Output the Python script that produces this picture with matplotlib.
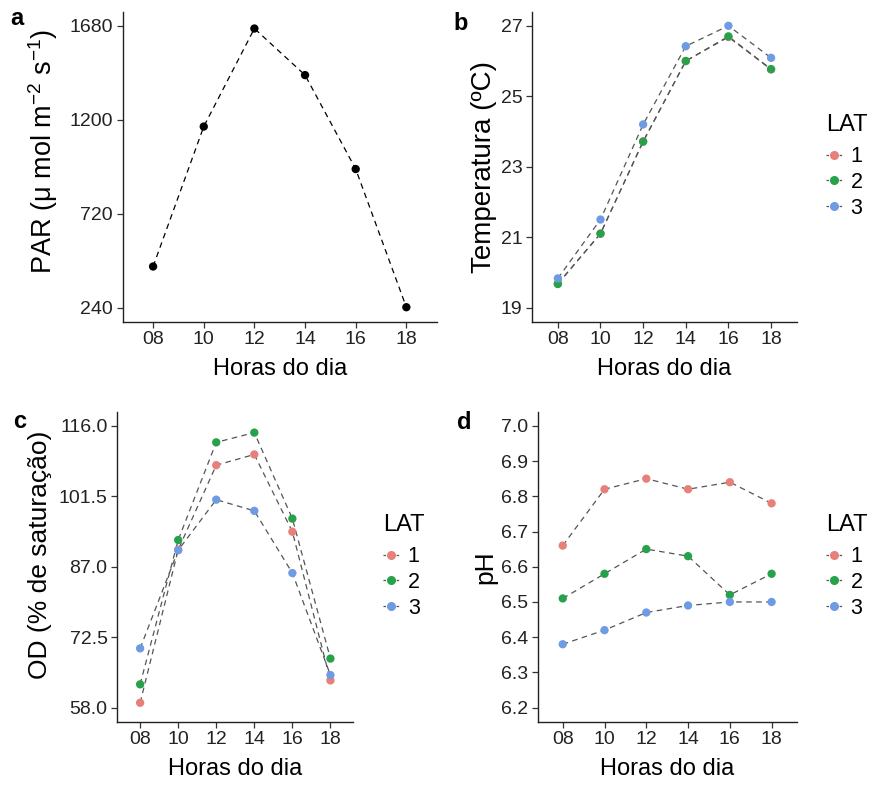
import matplotlib
matplotlib.use("Agg")
import matplotlib.pyplot as plt
from matplotlib.lines import Line2D

plt.rcParams['font.family'] = ['Liberation Sans', 'DejaVu Sans']
plt.rcParams['mathtext.fontset'] = 'custom'
plt.rcParams['mathtext.rm'] = 'Liberation Sans'

# data
hours = ["08", "10", "12", "14", "16", "18"]
lats = ["1", "2", "3"]
lat_colors = ["#E8807A", "#27A24A", "#6F9BE3"]

par = [450, 1165, 1666, 1428, 948, 242]

temp_lat1 = [19.68, 21.10, 23.72, 26.00, 26.68, 25.76]
temp_lat2 = [19.67, 21.10, 23.71, 26.00, 26.70, 25.77]
temp_lat3 = [19.83, 21.50, 24.20, 26.42, 27.00, 26.09]

od_lat1 = [59.0, 90.5, 107.9, 110.1, 94.2, 63.6]
od_lat2 = [62.8, 92.5, 112.6, 114.6, 96.9, 68.1]
od_lat3 = [70.2, 90.4, 100.8, 98.5, 85.7, 64.7]

ph_lat1 = [6.66, 6.82, 6.85, 6.82, 6.84, 6.78]
ph_lat2 = [6.51, 6.58, 6.65, 6.63, 6.52, 6.58]
ph_lat3 = [6.38, 6.42, 6.47, 6.49, 6.50, 6.50]

x = list(range(len(hours)))
dash = (0, (4.5, 3.5))
line_col = "#555555"

fig = plt.figure(figsize=(8.74, 7.85), dpi=100)
ax_a = fig.add_axes([0.1404, 0.5902, 0.3593, 0.3949])
ax_b = fig.add_axes([0.6090, 0.5902, 0.3025, 0.3949])
ax_c = fig.add_axes([0.1342, 0.0806, 0.2700, 0.3949])
ax_d = fig.add_axes([0.6152, 0.0806, 0.2963, 0.3949])


def style(ax, lo, hi, ticks, fmt):
    pad = (hi - lo) * 0.05
    ax.set_ylim(lo - pad, hi + pad)
    ax.set_yticks(ticks)
    ax.set_yticklabels([fmt.format(t) for t in ticks])
    ax.set_xlim(-0.6, len(hours) - 1 + 0.6)
    ax.set_xticks(x)
    ax.set_xticklabels(hours)
    for s in ["top", "right"]:
        ax.spines[s].set_visible(False)
    for s in ["left", "bottom"]:
        ax.spines[s].set_linewidth(1.0)
        ax.spines[s].set_color("#222222")
    ax.tick_params(length=4, width=0.9, color="#333333", labelsize=14,
                   labelcolor="#222222", pad=3)
    ax.set_xlabel("Horas do dia", fontsize=17, labelpad=7)


def series(ax, values_list):
    for vals in values_list:
        ax.plot(x, vals, linestyle=dash, color=line_col, lw=0.9, zorder=2)
    for vals, c in zip(values_list, lat_colors):
        ax.scatter(x, vals, s=36, color=c, zorder=3, edgecolors="none")


def add_legend(ax, fx, fy, ty):
    fig.text(fx, ty, "LAT", fontsize=17, ha="left", va="center")
    handles = [Line2D([0], [0], color=line_col, lw=0.9, linestyle=(0, (2, 1.5)),
                      marker="o", markersize=5.5, markerfacecolor=c,
                      markeredgecolor=c) for c in lat_colors]
    ax.legend(handles, lats, loc="center left",
              bbox_to_anchor=(fx, fy), bbox_transform=fig.transFigure,
              frameon=False, fontsize=15.5, handlelength=0.75,
              handletextpad=0.4, labelspacing=0.22, borderpad=0,
              borderaxespad=0)


# a
ax_a.plot(x, par, linestyle=dash, color="black", lw=0.9, zorder=2)
ax_a.scatter(x, par, s=36, color="black", zorder=3, edgecolors="none")
style(ax_a, 240, 1680, [240, 720, 1200, 1680], "{:.0f}")
ax_a.set_ylabel(r"PAR (μ mol m$^{\mathregular{-2}}$ s$^{\mathregular{-1}}$)", fontsize=19.5)
ax_a.yaxis.set_label_coords(-0.200, 0.548)

# b
series(ax_b, [temp_lat1, temp_lat2, temp_lat3])
style(ax_b, 19, 27, [19, 21, 23, 25, 27], "{:.0f}")
ax_b.set_ylabel("Temperatura (ºC)", fontsize=20)
ax_b.yaxis.set_label_coords(-0.133, 0.5)
add_legend(ax_b, 0.945, 1 - 182.5 / 785, 1 - 125 / 785)

# c
series(ax_c, [od_lat1, od_lat2, od_lat3])
style(ax_c, 58, 116, [58.0, 72.5, 87.0, 101.5, 116.0], "{:.1f}")
ax_c.set_ylabel("OD (% de saturação)", fontsize=19)
ax_c.yaxis.set_label_coords(-0.277, 0.538)
add_legend(ax_c, 383 / 874, 1 - 582.5 / 785, 1 - 525 / 785)

# d
series(ax_d, [ph_lat1, ph_lat2, ph_lat3])
style(ax_d, 6.2, 7.0, [6.2, 6.3, 6.4, 6.5, 6.6, 6.7, 6.8, 6.9, 7.0], "{:.1f}")
ax_d.set_ylabel("pH", fontsize=19)
ax_d.yaxis.set_label_coords(-0.157, 0.5)
add_legend(ax_d, 0.945, 1 - 582.5 / 785, 1 - 525 / 785)

# panel letters
for lab, fx, fy in [("a", 0.019, 0.976), ("b", 0.527, 0.970),
                    ("c", 0.023, 0.463), ("d", 0.531, 0.462)]:
    fig.text(fx, fy, lab, fontsize=17, fontweight="bold", ha="center", va="center")

fig.savefig("out.png", dpi=100)
